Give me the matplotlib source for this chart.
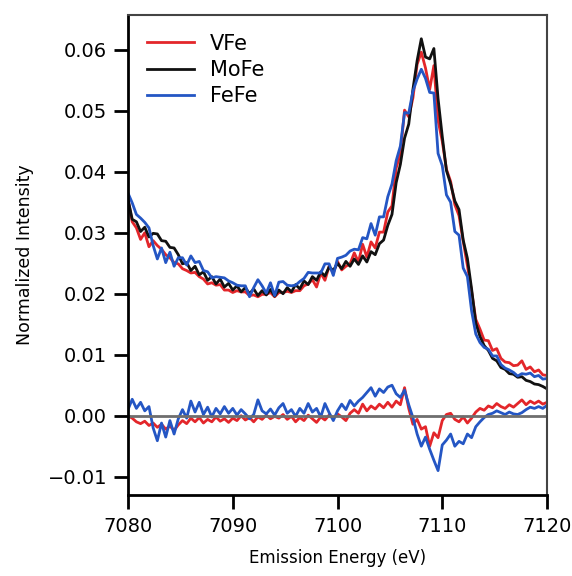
import numpy as np
import matplotlib
matplotlib.use("Agg")
import matplotlib.pyplot as plt

# emission energy grid (eV), 0.4 eV steps
energy = np.linspace(7080, 7120, 101)

# normalized Kbeta spectra
mofe = [0.0355, 0.0322, 0.0318, 0.0302, 0.0309, 0.0293, 0.0299, 0.0298, 0.0287, 0.0286,
        0.0276, 0.0275, 0.0264, 0.0249, 0.0251, 0.0238, 0.0245, 0.0231, 0.0236, 0.0222,
        0.0228, 0.0216, 0.0224, 0.0211, 0.0217, 0.0206, 0.0213, 0.0203, 0.0210, 0.0200,
        0.0208, 0.0197, 0.0205, 0.0198, 0.0207, 0.0196, 0.0206, 0.0200, 0.0210, 0.0203,
        0.0215, 0.0208, 0.0221, 0.0215, 0.0228, 0.0222, 0.0236, 0.0229, 0.0244, 0.0238,
        0.0250, 0.0241, 0.0253, 0.0245, 0.0257, 0.0248, 0.0262, 0.0252, 0.0269, 0.0264,
        0.0282, 0.0288, 0.0312, 0.0330, 0.0382, 0.0412, 0.0455, 0.0478, 0.0535, 0.0582,
        0.0618, 0.0588, 0.0585, 0.0602, 0.0520, 0.0458, 0.0402, 0.0380, 0.0352, 0.0338,
        0.0288, 0.0258, 0.0208, 0.0152, 0.0130, 0.0115, 0.0107, 0.0094, 0.0090, 0.0079,
        0.0076, 0.0069, 0.0068, 0.0063, 0.0064, 0.0058, 0.0056, 0.0052, 0.0051, 0.0048,
        0.0044]

vfe = [0.0355, 0.0318, 0.0308, 0.0289, 0.0300, 0.0277, 0.0287, 0.0279, 0.0273, 0.0264,
       0.0259, 0.0251, 0.0249, 0.0241, 0.0238, 0.0234, 0.0235, 0.0228, 0.0224, 0.0216,
       0.0218, 0.0214, 0.0215, 0.0206, 0.0206, 0.0202, 0.0205, 0.0203, 0.0203, 0.0197,
       0.0198, 0.0195, 0.0199, 0.0199, 0.0202, 0.0195, 0.0202, 0.0202, 0.0204, 0.0202,
       0.0205, 0.0205, 0.0213, 0.0216, 0.0223, 0.0211, 0.0234, 0.0222, 0.0245, 0.0234,
       0.0253, 0.0239, 0.0245, 0.0249, 0.0267, 0.0252, 0.0281, 0.0260, 0.0285, 0.0275,
       0.0301, 0.0301, 0.0334, 0.0344, 0.0406, 0.0430, 0.0501, 0.0490, 0.0521, 0.0576,
       0.0596, 0.0570, 0.0535, 0.0574, 0.0484, 0.0450, 0.0404, 0.0384, 0.0346, 0.0328,
       0.0286, 0.0246, 0.0204, 0.0158, 0.0142, 0.0124, 0.0123, 0.0107, 0.0110, 0.0094,
       0.0088, 0.0087, 0.0082, 0.0083, 0.0090, 0.0076, 0.0080, 0.0072, 0.0075, 0.0067,
       0.0066]

fefe = [0.0365, 0.0349, 0.0330, 0.0324, 0.0317, 0.0308, 0.0279, 0.0257, 0.0275, 0.0251,
        0.0268, 0.0245, 0.0259, 0.0259, 0.0247, 0.0262, 0.0251, 0.0253, 0.0238, 0.0236,
        0.0226, 0.0228, 0.0227, 0.0226, 0.0221, 0.0218, 0.0214, 0.0213, 0.0213, 0.0195,
        0.0210, 0.0223, 0.0213, 0.0201, 0.0218, 0.0197, 0.0219, 0.0220, 0.0214, 0.0213,
        0.0214, 0.0220, 0.0225, 0.0235, 0.0234, 0.0234, 0.0234, 0.0249, 0.0249, 0.0230,
        0.0258, 0.0260, 0.0263, 0.0270, 0.0273, 0.0272, 0.0292, 0.0290, 0.0315, 0.0296,
        0.0326, 0.0326, 0.0359, 0.0380, 0.0418, 0.0442, 0.0497, 0.0496, 0.0532, 0.0552,
        0.0568, 0.0553, 0.0530, 0.0529, 0.0430, 0.0410, 0.0362, 0.0350, 0.0302, 0.0296,
        0.0242, 0.0228, 0.0172, 0.0134, 0.0120, 0.0112, 0.0109, 0.0098, 0.0098, 0.0084,
        0.0078, 0.0075, 0.0071, 0.0065, 0.0069, 0.0068, 0.0070, 0.0064, 0.0066, 0.0060,
        0.0061]

mofe = np.array(mofe)
vfe = np.array(vfe)
fefe = np.array(fefe)

# difference spectra relative to MoFe
diff_v = vfe - mofe
diff_fe = fefe - mofe

red = "#e3262a"
black = "#111111"
blue = "#2456c4"

fig = plt.figure(figsize=(5.72, 5.76), dpi=100)
ax = fig.add_axes([0.2238, 0.1406, 0.7325, 0.8334])

ax.plot(energy, vfe, color=red, lw=2.0, label="VFe")
ax.plot(energy, mofe, color=black, lw=2.0, label="MoFe")
ax.plot(energy, fefe, color=blue, lw=2.0, label="FeFe")

ax.plot(energy, diff_v, color=red, lw=2.0)
ax.plot(energy, diff_fe, color=blue, lw=2.0)
ax.axhline(0, color="#6e6e6e", lw=2.0)

ax.set_xlim(7080, 7120)
ax.set_ylim(-0.013, 0.0657)
ax.set_xticks([7080, 7090, 7100, 7110, 7120])
ax.set_yticks([-0.01, 0.0, 0.01, 0.02, 0.03, 0.04, 0.05, 0.06])
ax.set_yticklabels(["\u22120.01", "0.00", "0.01", "0.02", "0.03", "0.04", "0.05", "0.06"])

ax.tick_params(direction="out", length=10, width=2.0, labelsize=14, pad=5)
ax.tick_params(axis="x", pad=6)
for side in ["left", "bottom"]:
    ax.spines[side].set_linewidth(2.0)
    ax.spines[side].set_color("black")
for side in ["top", "right"]:
    ax.spines[side].set_linewidth(1.5)
    ax.spines[side].set_color("#444444")

ax.set_xlabel("Emission Energy (eV)", fontsize=12, labelpad=9)
ax.set_ylabel("Normalized Intensity", fontsize=12.5, labelpad=10)

ax.legend(loc="upper left", frameon=False, fontsize=15, handlelength=2.25,
          handletextpad=0.8, labelspacing=0.3, borderaxespad=0.5)

fig.savefig("out.png", dpi=100)
